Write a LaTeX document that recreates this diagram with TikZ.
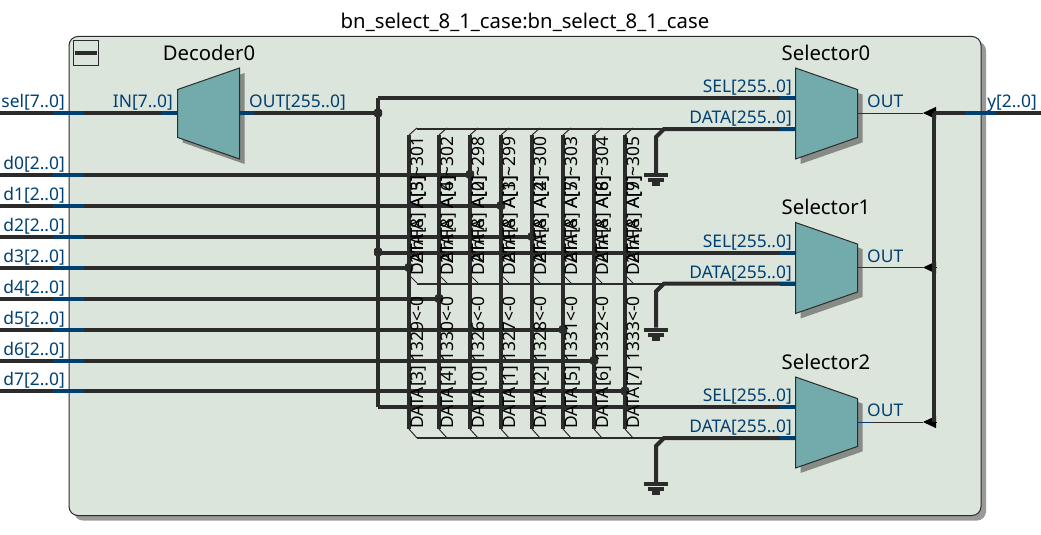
\documentclass[tikz,border=0pt]{standalone}
\usepackage{fontspec}
\setmainfont{Noto Sans}
\usetikzlibrary{arrows.meta,positioning,shapes.geometric,shadows}

\definecolor{wire}{HTML}{2B2B2B}
\definecolor{stub}{HTML}{004070}
\definecolor{panel}{HTML}{DCE5DC}
\definecolor{teal}{HTML}{73ABAD}
\definecolor{muxshade}{HTML}{868B86}
\definecolor{boxshade}{HTML}{999999}

\begin{document}
\begin{tikzpicture}[
		x=1pt, y=-1pt,
		bus/.style={draw=wire, line width=4pt},
		busend/.style={draw=stub, line width=4pt},
		hair/.style={draw=wire, line width=1pt},
		rail/.style={draw=wire, line width=2pt},
		arrow/.style={-{Triangle[length=13pt, width=12pt]}, draw=black, line width=1pt},
		junct/.style={rectangle, rounded corners=2pt, fill=wire, inner sep=0pt, minimum size=8pt},
		frame/.style={draw=wire, fill=panel, rounded corners=9pt, line width=1pt, minimum width=912pt, minimum height=479pt, general shadow={fill=boxshade, shadow xshift=5pt, shadow yshift=-5pt}},
		mux/.style={trapezium, draw=wire, fill=teal, line width=1pt, inner sep=0pt, trapezium stretches=true, trapezium angle=70.5, minimum width=91pt, minimum height=62pt, general shadow={fill=muxshade, shadow xshift=5pt, shadow yshift=-5pt}},
		inst/.style={inner sep=0pt, text height=14pt, text depth=4pt, font=\fontsize{20.3}{22}\selectfont},
		port/.style={inner sep=0pt, text height=13pt, text depth=3pt, text=stub, font=\fontsize{17.4}{20}\selectfont},
		vtext/.style={inner sep=0pt, anchor=base west, rotate=90, text=black, font=\fontsize{17.4}{20}\selectfont},
	]
		\useasboundingbox (0,0) rectangle (1041,535);

		\node (frm) [frame] at (525,276) {};
		\node (ttl) [inst, above=3pt of frm.north] {bn\_select\_8\_1\_case:bn\_select\_8\_1\_case};
		\node (fold) [draw=wire, line width=1pt, minimum width=25pt, minimum height=25pt, inner sep=0pt] at (86,53) {};
		\node (foldbar) [fill=wire, minimum width=22pt, minimum height=4pt, inner sep=0pt] at (fold.center) {};

		% memory cell columns
		\foreach \c/\x in {a/409,b/439,c/470,d/501,e/532,f/563,g/594,h/625} {
			\coordinate (\c top) at (\x,135);
			\coordinate (\c bot) at (\x,429);
			\draw[bus, line cap=butt] (\c top) -- (\c bot);
			\draw[hair] (\c top) -- ++(8,-7);
			\draw[hair] (\x,275) -- ++(8,8);
			\draw[hair] (\c bot) -- ++(8,9);
		}

		% data inputs
		\foreach \i/\c/\x/\y in {0/c/470/174.5,1/d/501/205.5,2/e/532/236.5,3/a/409/267.5,4/b/439/298.5,5/f/563/329.5,6/g/594/360.5,7/h/625/391} {
			\coordinate (d\i) at (0,\y);
			\node (j\i) [junct] at (\x,\y) {};
			\draw[bus] (d\i) -- (j\i);
			\draw[busend] (53,\y) -- (84,\y);
			\node (d\i txt) [port, above left=2pt and 4pt of d\i, xshift=69pt] {d\i[2..0]};
		}

		% select input and decoder
		\coordinate (sel) at (0,113);
		\node (dec) [mux, shape border rotate=90] at (208.5,113.5) {\phantom{M}};
		\node (dect) [inst, anchor=base] at (209,60) {Decoder0};
		\coordinate (decin) at (177,113);
		\coordinate (decout) at (240,113);
		\node (jdec) [junct] at (378,113) {};
		\draw[bus] (sel) -- (decin);
		\draw[bus] (decout) -- (jdec);
		\draw[busend] (53,113) -- (84,113);
		\draw[busend] (161,113) -- (decin);
		\draw[busend] (decout) -- (254,113);
		\node (seltxt) [port, above left=2pt and 4pt of sel, xshift=69pt] {sel[7..0]};
		\node (intxt) [port, above left=2pt and 4pt of decin] {IN[7..0]};
		\node (outtxt) [port, above right=2pt and 9pt of decout] {OUT[255..0]};

		% selectors, their rails and grounds
		\foreach \n/\dy in {0/0,1/154.5,2/309} {
			\node (s\n) [mux, shape border rotate=270] at (826.5,113.5+\dy) {\phantom{M}};
			\node (s\n t) [inst, anchor=base] at (826,60+\dy) {Selector\n};
			\coordinate (s\n sel) at (795,98+\dy);
			\coordinate (s\n dat) at (795,129+\dy);
			\coordinate (s\n out) at (858,113+\dy);
			\coordinate (s\n trk) at (378,98+\dy);
			\coordinate (s\n bus) at (664,129+\dy);
			\coordinate (s\n rl) at (417,129+\dy);
			\coordinate (s\n gnd) at (656,173+\dy);
			\coordinate (y\n tip) at (923,113+\dy);
			\coordinate (y\n rl) at (936,113+\dy);
			\draw[bus] (s\n trk) -- (s\n sel);
			\draw[busend] (780,98+\dy) -- (s\n sel);
			\draw[rail] (s\n rl) -- (s\n bus);
			\draw[bus] (s\n dat) -- (s\n bus) -- (656,137+\dy) -- (s\n gnd);
			\draw[busend] (780,129+\dy) -- (s\n dat);
			\fill[wire] (644,173+\dy) rectangle (668,177+\dy);
			\fill[wire] (648,178+\dy) rectangle (664,182+\dy);
			\fill[wire] (652,182+\dy) rectangle (660,186+\dy);
			\draw[hair] (s\n out) -- (y\n tip);
			\draw[draw=stub, line width=1pt] (s\n out) -- (871,113+\dy);
			\draw[arrow] (y\n rl) -- (y\n tip);
			\node (s\n seltxt) [port, above left=2pt and 3pt of s\n sel] {SEL[255..0]};
			\node (s\n dattxt) [port, above left=2pt and 3pt of s\n dat] {DATA[255..0]};
			\node (s\n outtxt) [port, above right=2pt and 9pt of s\n out] {OUT};
		}
		\node (jsel) [junct] at (378,252) {};
		\draw[bus] (s0trk) -- (s2trk);

		% output
		\coordinate (yout) at (1041,113);
		\draw[bus] (934,113) -- (934,422);
		\draw[bus] (934,113) -- (yout);
		\draw[busend] (965,113) -- (996,113);
		\node (ytxt) [port, above left=2pt and 4pt of yout] {y[2..0]};

		% cell labels, printed over one another in the upper row
		\foreach \x/\a/\b/\c/\m/\t in {409/3/5/301/1329/3,439/4/6/302/1330/4,470/0/2/298/1326/0,501/1/3/299/1327/1,532/2/4/300/1328/2,563/5/7/303/1331/5,594/6/8/304/1332/6,625/7/9/305/1333/7} {
			\node (lo\t) [vtext] at (\x+14,429) {DATA[\t]\hspace{4pt}\m<-0};
			\node (up\t) [vtext] at (\x+14,276) {DATA[8]\hspace{4pt}A[\a]\textasciitilde\c};
			\node (ov\t) [vtext] at (\x+14,276) {\rlap{\phantom{D}2'hFA}\phantom{DATA[8]}\hspace{4pt}A[\b]};
		}
	\end{tikzpicture}
\end{document}
